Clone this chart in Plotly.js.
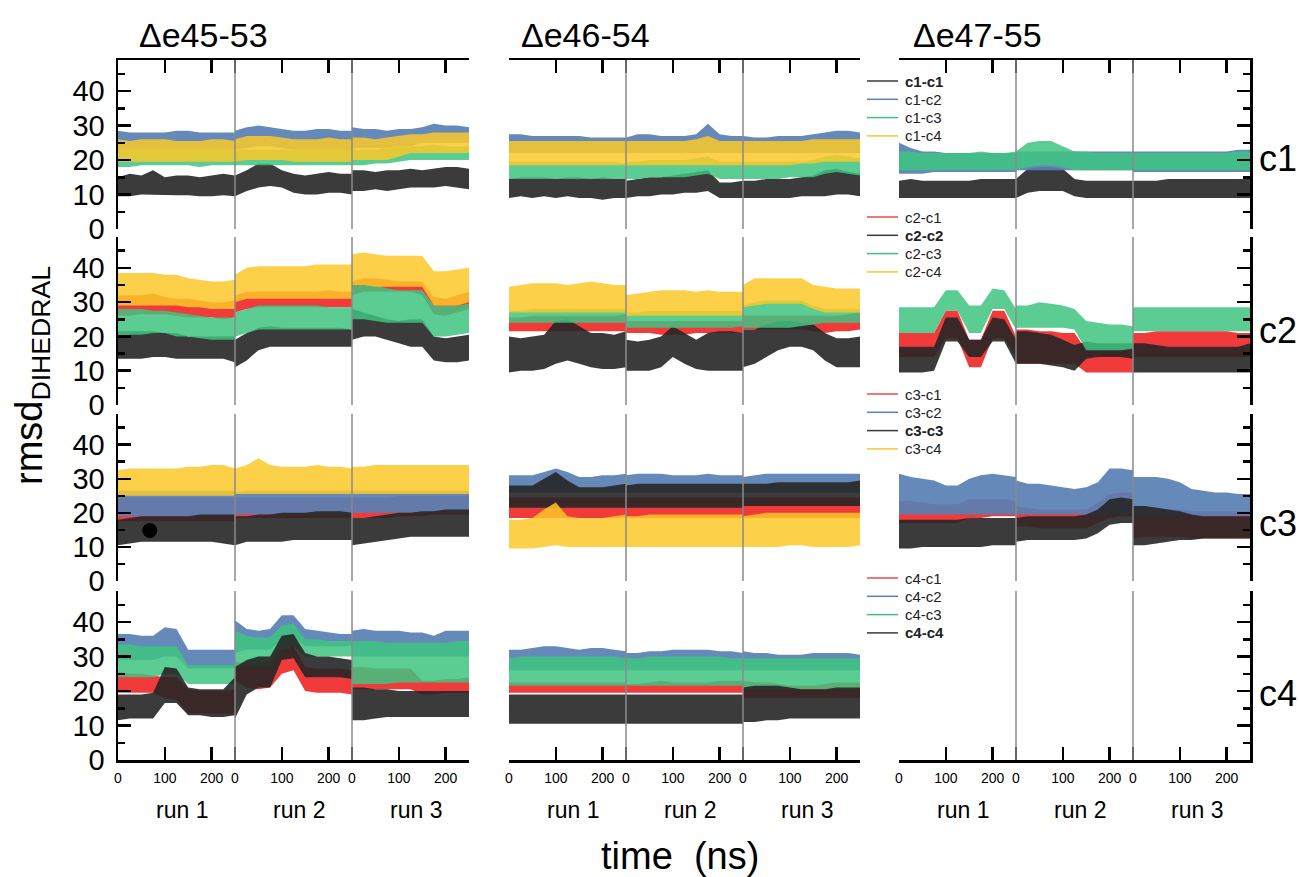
<!DOCTYPE html>
<html><head><meta charset="utf-8">
<script src="https://cdn.plot.ly/plotly-3.0.1.min.js"></script>
<style>html,body{margin:0;padding:0;background:#fff}</style>
</head><body><div id="chart" style="width:1299px;height:877px"></div>
<script>
// ---------- categories / labels ----------
const columnTitles = ['Δe45-53','Δe46-54','Δe47-55'];
const rowLabels = ['c1','c2','c3','c4'];
const runLabels = ['run 1','run 2','run 3'];
const runTimes = [0,25,50,75,100,125,150,175,200,225,250]; // ns within each run
const runLength = 250;
const xTickVals = [0,100,200];
const xTickText = ['0','100','200'];
const pairNames = [
  ['c1-c1','c1-c2','c1-c3','c1-c4'],
  ['c2-c1','c2-c2','c2-c3','c2-c4'],
  ['c3-c1','c3-c2','c3-c3','c3-c4'],
  ['c4-c1','c4-c2','c4-c3','c4-c4']
];
const dotTime = [68];
const dotValue = [14.8];

// ---------- data: lower/upper envelope of each rmsd trace (run1 | run2 | run3) ----------
// Δe45-53
const e45_c1c1_lo=[9.5,9.5,10,10,9.8,9.8,9.8,9.5,9.5,9.8,9.5, 9.5,11,12,12.5,12,10.5,10,10,10.5,10.5,10, 11,11,11.5,11,11.5,12,12,12,12.5,12,11.5];
const e45_c1c1_hi=[15,16,15.5,17,15,15.5,15.5,15,15.5,16,15.5, 15.5,17,19,19,17,16,15.5,16,16.5,16,16, 17,17,16.5,17,17,17.5,17,17.5,18,18,17.5];
const e45_c1c2_lo=[23,23,23,23,23,23,23,23,23,23,23, 23,23.5,24,24,23.5,23,23,23,23,23,23, 23.5,23.5,23.5,23.5,24,24,25,25,25,25,25];
const e45_c1c2_hi=[28.5,28,28,28,28,28.5,28.5,28,28,28,28, 28.5,29.5,30,29.5,29,28.5,28.5,29,29,28.5,28.5, 29.5,29,29,28.5,29,29,29.5,30.5,30,30,29.5];
const e45_c1c3_lo=[18,18,18.5,18.5,18.5,18.5,18.5,18,18.5,18.5,18.5, 18.5,18.5,18.5,18.5,18.5,18.5,18.5,18.5,18.5,18.5,18.5, 18.5,18.5,19,19,19.5,20,20,20,20,20,20];
const e45_c1c3_hi=[23,23,23,23,23,23,23,23,23,23,23, 23,23,23,23,23,23,23,23,23,23,23, 23,23,23,23.5,24,24,24,24.5,24,24,24];
const e45_c1c4_lo=[19.5,19.5,19.5,19.5,19.5,19.5,19.5,19.5,19.5,19.5,19.5, 19.5,20,20,20,20,19.5,19.5,19.5,19.5,19.5,19.5, 20,20,20,20,21,22,22,22,22,22,22];
const e45_c1c4_hi=[26,25.5,26,26,26,25.5,25.5,25.5,26,26,25.5, 26,27,27,27,26.5,26,26,26,26.5,26,26, 26.5,26.5,26,26.5,27,27.5,27.5,28,28,28,28];

const e45_c2c1_lo=[26,26,26.5,26.5,26.5,26,25.5,25.5,25.5,25,25.5, 27,28,28.5,28.5,28.5,28.5,28.5,28.5,28.5,28.5,28.5, 32,33,33,33,33,33,32,26.5,26,27,28];
const e45_c2c1_hi=[32,32,32,32.5,31.5,31,31,30.5,30,30,30.5, 32,33,33,33,33,33,33,33,33.5,33,33, 36,37,37,36.5,36,36,36,31.5,31,32,33];
const e45_c2c2_lo=[13.5,13.5,13.5,14,14,13.5,13.5,13.5,13.5,13.5,12.5, 11,13,16,17,17,17,17,17,17,17,17, 19,20,20,19,18,17,17,13,12.5,12.5,13];
const e45_c2c2_hi=[21.5,21.5,21.5,21.5,21,21,20,20,20,20,20, 19,21,22.5,23,22.5,22.5,22.5,22.5,22.5,22.5,22, 28,27,26,25,24.5,25,25,20,19.5,20,20.5];
const e45_c2c3_lo=[20,20.5,20.5,21,21,20,20,19.5,19,19,19, 20,21,22,22,22,22,22,22,22,22,22, 25,25,24.5,24,24,24,24,20,20,20.5,21];
const e45_c2c3_hi=[28,28,28,27.5,27.5,27,26.5,26,25.5,25.5,25.5, 27,28,29,29,29,29,29,29,28.5,28.5,28.5, 35,35,35,34,33.5,33.5,33.5,29,29,29,29.5];
const e45_c2c4_lo=[29,29,29,29,29,29,28.5,28.5,28,28,28, 30,31,31,31,31,31,31,31,31,31,31, 35,35,34.5,34.5,34.5,34.5,34.5,29,29,29,30];
const e45_c2c4_hi=[38.5,38.5,38.5,38.5,38,38,37,36.5,36,36,36.5, 38,40,40.5,40.5,40.5,40.5,40.5,41,41,41,41, 44,44.5,44,43.5,43.5,43.5,43.5,39,39,39.5,40];

const e45_c3c1_lo=[17.5,17.5,17.5,17.5,17.5,17.5,17.5,17.5,17.5,17.5,17.5, 18.5,18.5,18.5,18.5,18.5,18.5,18.5,18.5,18.5,18.5,18.5, 18.5,18.5,18.5,18.5,19,19,19,19.5,19.5,19.5,19.5];
const e45_c3c1_hi=[24.5,24.5,24.5,24.5,24.5,24.5,24.5,24.5,24.5,24.5,24.5, 24.5,24.5,24.5,24.5,24.5,24.5,24.5,24.5,24.5,24.5,24.5, 24.5,24.5,24.5,24.5,25,25,25,25,25,25,25];
const e45_c3c2_lo=[19,19,19,19,19,19,19,19,19,19,19, 19.5,19.5,19.5,19.5,19.5,19.5,19.5,19.5,19.5,19.5,19.5, 20,20,20,20,20,20,20,20,20,20,20];
const e45_c3c2_hi=[26.5,26.5,26.5,26.5,26.5,26.5,26.5,26.5,26.5,26.5,26.5, 26,26.5,26.5,26.5,26.5,26.5,26.5,26.5,26.5,26.5,26.5, 26.5,26.5,26.5,26.5,26.5,26.5,26.5,26.5,26.5,26.5,26.5];
const e45_c3c3_lo=[10.5,11,11.5,11.5,11.5,11.5,11.5,11.5,11.5,11,10.5, 10.5,11.5,11.5,11.5,11.5,12,12,12,12,12,12, 10.5,11,11.5,12,12.5,13,13,13,13,13,13];
const e45_c3c3_hi=[18,18.5,19,19,19,19,19,19.5,19.5,19.5,19.5, 19,19,19.5,19.5,20,20,20,20.5,20.5,20.5,20, 18.5,18.5,19,19.5,20,20,20.5,20.5,21,21,21];
const e45_c3c4_lo=[25,25,25,25,25,25,25,25,25,25,25, 25.5,25.5,25.5,25.5,25.5,25.5,25.5,25.5,25.5,25.5,25.5, 25.5,25.5,25.5,25.5,25.5,25.5,25.5,25.5,25.5,25.5,25.5];
const e45_c3c4_hi=[32.5,33,33,33,33,33,33.5,33.5,34,34,33, 33,34,36,34,33.5,33.5,33.5,34,33.5,33.5,33, 33.5,33.5,34,34,34,34,34,34,34,34,34];

const e45_c4c1_lo=[19.5,19.5,19.5,19.5,18,17.5,13.5,13.5,13.5,13.5,13.5, 23,21,20.5,21,25,26,20,19.5,19.5,19.5,19, 20.5,20.5,20.5,20.5,20.5,20.5,19,19,19.5,19.5,19.5];
const e45_c4c1_hi=[25.5,25,25,24.5,24,24,20.5,20,20,20,20.5, 28.5,28,28,29,32,33,27,26.5,26.5,26.5,26, 27,27,26.5,26.5,26.5,26.5,23,23,23.5,23.5,24];
const e45_c4c2_lo=[29,29,29,29,30,30,26.5,26.5,26.5,26.5,26.5, 31,32,32,32,35,36,33,33,33,33,33, 30,30,30,30,30,30,30,30,30,30,30];
const e45_c4c2_hi=[36.5,36.5,36,36,38.5,38,32,32,32,32,32, 40.5,38,37.5,38,42,42,38,37.5,37,36.5,36.5, 37.5,38,37.5,37.5,37.5,37,37,36,37.5,37.5,37.5];
const e45_c4c3_lo=[24,24,24,24,25,25,22,22,22,22,22, 27,27,27,27,32,33,30,30,30,30,30, 22,22,22,22,22.5,22.5,22.5,22.5,22.5,22.5,22.5];
const e45_c4c3_hi=[33.5,33.5,33,33,33,33,27.5,27.5,27.5,27.5,27.5, 37.5,36,35.5,35.5,39,39.5,35,35,34.5,34.5,34.5, 34.5,34.5,34.5,34,34,34,34,34,34,34.5,34.5];
const e45_c4c4_lo=[11.5,12,12,12,16.5,16.5,13,13,12.5,12.5,13, 12,19,21,21,29,29.5,24,24,24,24,23.5, 11.5,11.5,12,12.5,12.5,12.5,12.5,12.5,12.5,12.5,12.5];
const e45_c4c4_hi=[19,19,19,19.5,27,26.5,21,20.5,20.5,20.5,24, 27,29,30,30,36,36.5,31,30,30,29.5,29, 21,21,20.5,20.5,20,20,20,20,20,20,20];

// Δe46-54
const e46_c1c1_lo=[9,9.5,9,9.5,9,9.5,9,9,8.5,9,9, 9,9.5,9.5,10,10,10.5,10.5,11,9,9,9, 9,9,9,9,9,9.5,9.5,9.5,10,10,9.5];
const e46_c1c1_hi=[14.5,15,15,15,14.5,15,15,14.5,15,14.5,14.5, 14,14.5,15,15,15.5,16,16.5,17,13.5,13.5,14, 14,14,14.5,14.5,14.5,15,15.5,17,17.5,16.5,16];
const e46_c1c2_lo=[22,22,22,22,22,22,22,22,22,22,22, 22,22,22,22,22,22,22,22,22,22,22, 22,22,22,22,22,22,22,22,22,22,22];
const e46_c1c2_hi=[27.5,27.5,27,27,27,27,27,26.5,26.5,26.5,26.5, 26.5,27.5,27.5,27,27,27,27.5,30.5,27.5,27,27, 27,26.5,26.5,27,27,27,27.5,28,28.5,28.5,28];
const e46_c1c3_lo=[14.5,14.5,14.5,14.5,14.5,14.5,14.5,14.5,14.5,14.5,14.5, 14.5,14.5,15,15,15,15,15.5,16,14.5,14.5,14.5, 14.5,14.5,14.5,14.5,15,15,15,16,16.5,16,15.5];
const e46_c1c3_hi=[19.5,19.5,19.5,19.5,19.5,19.5,19.5,19.5,19.5,19.5,19, 19.5,19.5,20,20,20,20,20.5,21,19.5,19.5,19.5, 19.5,19.5,19.5,19.5,19.5,19.5,20,21,21.5,21,20.5];
const e46_c1c4_lo=[18.5,18.5,18.5,18.5,18.5,18.5,18.5,18.5,18.5,18.5,18.5, 18.5,18.5,18.5,18.5,18.5,18.5,18.5,18.5,18.5,18.5,18.5, 18.5,18.5,18.5,18.5,18.5,19,19,19.5,19.5,19.5,19.5];
const e46_c1c4_hi=[25.5,25.5,25.5,25.5,25.5,25.5,25.5,25.5,25.5,25.5,25.5, 25.5,25.5,25.5,25.5,25.5,25.5,26,27,25.5,25.5,25.5, 25.5,25.5,25.5,25.5,25.5,25.5,26,26,26,26,26];

const e46_c2c1_lo=[21.5,21.5,21.5,21.5,21.5,21.5,21.5,21.5,21.5,21.5,21.5, 21,21,21,20.5,20.5,20.5,21,21,21,21,21, 22,22,22,22,22,22,21.5,21,21.5,21.5,22];
const e46_c2c1_hi=[25.5,25.5,26,26,26,26,26,26,26,26,26.5, 24.5,24.5,24.5,24.5,24.5,24.5,24.5,24.5,24.5,24.5,24.5, 26,26,26,26,26,26,26,26,26,26.5,27];
const e46_c2c2_lo=[9.5,10,10,10.5,12,13,12,11,10.5,10.5,11, 10,10,10,11,14,12,10.5,10,10,10,10, 11,12,14,16,17,17,16,13,11,11,11];
const e46_c2c2_hi=[20,19.5,20,20.5,24.5,25,23,21,21,20.5,21.5, 19,18.5,19,20,23,21,19,21,21.5,21.5,21, 22,22,23.5,24.5,24.5,24,23.5,21,19.5,19.5,20];
const e46_c2c3_lo=[24,24,24,24,24,24,24,24,24,24,24, 22.5,22.5,22.5,22.5,22.5,22.5,22.5,22.5,22.5,22.5,23, 22.5,22.5,22.5,22.5,22.5,23,23.5,24,24,24,24];
const e46_c2c3_hi=[27.5,27.5,28,28,28,28,28,28,28,28,28, 27,27,27.5,27.5,27.5,27.5,27.5,27.5,27.5,27.5,27.5, 29,30,30.5,30.5,30.5,30.5,29,28,28,28,28];
const e46_c2c4_lo=[27,27,27,27,27,27,27,27,27,27,27, 26,26,26,26,26,26,26,26,26,26,26, 28.5,29,29.5,29.5,29.5,29.5,28,27,27,27,27];
const e46_c2c4_hi=[34.5,35,35.5,35.5,35.5,35,35.5,36,35.5,35,35, 32,32.5,33,33.5,33.5,33.5,33,33.5,33,33,33, 35,37,37,37,37,37,35,34.5,34,34,34];

const e46_c3c1_lo=[18.5,18.5,18.5,18.5,18.5,18.5,18.5,18.5,18.5,18.5,18.5, 18.5,18.5,18.5,18.5,18.5,18.5,18.5,18.5,18.5,18.5,18.5, 18.5,18.5,18.5,18.5,18.5,18.5,18.5,18.5,18.5,18.5,18.5];
const e46_c3c1_hi=[24.5,24.5,24.5,24.5,24.5,24.5,24.5,24.5,24.5,24.5,24.5, 24.5,24.5,24.5,24.5,24.5,24.5,24.5,24.5,24.5,24.5,24.5, 24.5,24.5,24.5,24.5,24.5,24.5,24.5,24.5,24.5,24.5,24.5];
const e46_c3c2_lo=[26,26,26,26,26,26,26,26,26,26,26, 26,26,26,26,26,26,26,26,26,26,26, 26,26,26,26,26,26,26,26,26,26,26];
const e46_c3c2_hi=[31,31,31,32,33,32,30.5,30.5,31,31,31.5, 31,31.5,31.5,31.5,31,31,31,31.5,31,31,31, 30.5,31,31.5,31.5,31.5,31.5,31.5,31.5,31.5,31.5,31.5];
const e46_c3c3_lo=[21.5,21.5,21.5,21.5,21.5,21.5,21.5,21.5,21.5,21.5,21.5, 21.5,21.5,21.5,21.5,21.5,21.5,21.5,21.5,21.5,21.5,21.5, 22,22,22,22,22,22,22,22,22,22,22];
const e46_c3c3_hi=[28,28,28,30,32,29.5,27.5,27.5,27.5,28,28.5, 28,28.5,28.5,28.5,28.5,28.5,28.5,28.5,28.5,28.5,28.5, 28.5,28.5,28.5,29,29,29,29,29,29,29,29.5];
const e46_c3c4_lo=[9.5,9.5,9.5,10,10.5,10,10,10,10,10,10, 10,10,10,10,10,10,10,10,10,10,10, 10,10,10,10,10.5,10.5,10,10,10,10,10.5];
const e46_c3c4_hi=[18,18,18.5,21,23,19,18.5,18.5,18.5,19,19.5, 19,19,19.5,19.5,19.5,19.5,19.5,19.5,19.5,19.5,19.5, 19,19.5,20,20,20,20,20,20,20,20,20];

const e46_c4c1_lo=[19.5,19.5,19.5,19.5,19.5,19.5,19.5,19.5,19.5,19.5,19.5, 19.5,19.5,19.5,19.5,19.5,19.5,19.5,19.5,19.5,19.5,19.5, 18,18,18,18,18,18,18,18,18,18,18];
const e46_c4c1_hi=[22.5,22.5,22.5,22.5,22.5,22.5,22.5,22.5,22.5,22.5,22.5, 22,22,22.5,23,22.5,22.5,22.5,22.5,23,23,23, 23,22.5,22.5,22,21.5,21.5,21.5,22,22.5,22.5,22.5];
const e46_c4c2_lo=[26,26,26,26,26,26,26,26,26,26,26, 26,26,26,26,26,26,26,26,26,26,26, 26,26,26,26,26,26,26,26,26,26,26];
const e46_c4c2_hi=[32,32,32.5,33,33,32.5,32,32.5,32.5,32,31.5, 31,31,31.5,31.5,32,32,32,32,31.5,31.5,31, 31.5,31,31,30.5,30.5,30.5,31,31,31,31,30.5];
const e46_c4c3_lo=[21.5,21.5,21.5,21.5,21.5,21.5,21.5,21.5,21.5,21.5,21.5, 21.5,21.5,21.5,21.5,21.5,21.5,21.5,21.5,21.5,21.5,21.5, 20.5,20.5,20.5,20.5,20.5,20.5,20.5,20.5,20.5,20.5,20.5];
const e46_c4c3_hi=[29.5,30,30,30,30,30,30,30,30,30,29.5, 29.5,29.5,30,30,30,30,30,30,30,29.5,29.5, 29.5,29.5,29.5,29.5,29.5,29.5,29.5,29.5,29.5,29.5,29.5];
const e46_c4c4_lo=[10.5,10.5,10.5,10.5,10.5,10.5,10.5,10.5,10.5,10.5,10.5, 10.5,10.5,10.5,10.5,10.5,10.5,10.5,10.5,10.5,10.5,10.5, 11,11,11.5,11.5,12,12,12,12,12,12,12];
const e46_c4c4_hi=[19,19,19,19,19,19,19,19,19,19,19, 19,19,19,19,19,19,19,19,19,19,19, 21,21.5,21.5,21.5,21,20.5,20.5,20.5,21,21,21];

// Δe47-55
const e47_c1c1_lo=[9,9,9,9,9,9,9,9,9,9,9, 9,10.5,11,11,11,9.5,9,9,9,9,9, 9,9,9,9,9,9,9,9,9,9,9];
const e47_c1c1_hi=[14,14.5,14,14,14,14,14,14.5,14.5,14.5,14.5, 14.5,17.5,18,18,17.5,14.5,14,14,14,14,14, 14,14,14,14.5,14.5,14.5,14.5,14.5,14.5,14.5,14.5];
const e47_c1c2_lo=[16,16,16,16.5,16.5,16.5,16.5,16.5,16.5,16.5,16.5, 17,17,17,17,17,17,17,17,17,17,17, 16.5,16.5,16.5,16.5,16.5,16.5,16.5,16.5,16.5,16.5,16.5];
const e47_c1c2_hi=[25,23.5,22.5,22.5,22,22,22,22,22,22,22, 22.5,22.5,22.5,22.5,22.5,22.5,22.5,22.5,22.5,22.5,22.5, 22.5,22.5,22.5,22.5,22.5,22.5,22.5,22.5,22.5,23,23];
const e47_c1c3_lo=[17,17,17,17,17,17,17,17,17,17,17, 17,18,18.5,18.5,18,17,17,17,17,17,17, 17,17,17,17,17,17,17,17,17,17,17];
const e47_c1c3_hi=[22.5,22.5,22,22,22,22,22,22.5,22,22,22.5, 22.5,25,25.5,25.5,24,22.5,22.5,22,22,22,22, 22,22,22,22,22,22,22,22,22,22.5,22.5];

const e47_c2c1_lo=[14,14,14,14,19.5,19.5,11,11,19.5,19.5,14, 12,12,12,12,12,12,9.5,9.5,9.5,9.5,9.5, 14,14,14,14,14,14,14,14,14,14,14];
const e47_c2c1_hi=[21,21,21,21,27.5,27.5,19,19,27.5,27.5,20, 22,22,21.5,21.5,21,21,16,16,16,16,16, 21,21,21.5,21.5,21.5,21.5,21.5,21.5,21.5,21,21];
const e47_c2c2_lo=[9.5,9.5,9.5,10,18.5,18.5,14,14,18.5,18.5,12, 12,12,12,11.5,11,10,13.5,14,14,14,13.5, 9.5,9.5,9.5,9.5,9.5,9.5,9.5,9.5,9.5,9.5,9.5];
const e47_c2c2_hi=[17,17,17,17,25.5,25.5,19,19,25.5,25,19, 21.5,21.5,21,20.5,19,17.5,18.5,18,18,18,18, 18,18,17.5,17,17,17,17,17,17,17,18];
const e47_c2c3_lo=[21,21,21,21,27.5,27.5,21,21,28,28,22, 22.5,22.5,22.5,22.5,22.5,22,16,16,16,16,16.5, 21.5,21.5,21.5,21.5,21.5,21.5,21.5,21.5,21.5,21.5,21.5];
const e47_c2c3_hi=[28.5,28.5,28.5,28.5,33.5,33.5,29,29,34,33.5,28, 29,29,30,29.5,29,28,24.5,24,23.5,23.5,23, 28.5,28.5,28.5,28.5,28.5,28.5,28.5,28.5,28.5,28.5,28.5];

const e47_c3c1_lo=[17,17,17,17,17,17,18.5,18.5,19,19,19, 16,16,15.5,15.5,15.5,15.5,15.5,17,18.5,19,19, 12.5,13,13,13,13,12.5,12.5,12.5,12.5,12.5,12.5];
const e47_c3c1_hi=[23.5,23.5,23,22.5,22.5,22.5,24,24,24,24,23.5, 22,21.5,21,21,21,21,21,23,25.5,26,26, 22,22,21.5,21,21,20.5,20.5,20.5,20.5,20.5,20.5];
const e47_c3c2_lo=[19.5,19.5,19.5,19.5,19.5,19.5,19.5,19.5,19.5,19.5,19.5, 19.5,19.5,19.5,19.5,19.5,19.5,19.5,19.5,19.5,19.5,19.5, 19,19,19,19,19,19,19,19,19,19,19];
const e47_c3c2_hi=[31.5,30.5,30,29.5,28,28,30,31,31.5,31,30.5, 29.5,28.5,28.5,28,27.5,27,27.5,29,33,33,32.5, 30.5,30.5,30.5,30,29,27,26.5,26,26,25.5,25.5];
const e47_c3c3_lo=[9.5,9.5,10,10,10,10,10,10,10.5,10.5,10.5, 11.5,12,12,12,12,12,12.5,14,16.5,17,17, 10.5,10.5,11,11.5,12,12,12.5,12.5,12.5,12.5,12.5];
const e47_c3c3_hi=[18,18,18,18,18,18,18.5,18.5,18.5,18.5,18.5, 18.5,19,19,19,19,19,19.5,21,24,24.5,24, 22,22,21.5,21,20.5,19.5,19,19,19,19,19];

// ---------- table of panels built from the arrays above ----------
// [column, row, pair, lower, upper]  (drawing order = legend order)
const panelSeries = [
  [0,0,'c1-c1',e45_c1c1_lo,e45_c1c1_hi],[0,0,'c1-c2',e45_c1c2_lo,e45_c1c2_hi],[0,0,'c1-c3',e45_c1c3_lo,e45_c1c3_hi],[0,0,'c1-c4',e45_c1c4_lo,e45_c1c4_hi],
  [0,1,'c2-c1',e45_c2c1_lo,e45_c2c1_hi],[0,1,'c2-c2',e45_c2c2_lo,e45_c2c2_hi],[0,1,'c2-c3',e45_c2c3_lo,e45_c2c3_hi],[0,1,'c2-c4',e45_c2c4_lo,e45_c2c4_hi],
  [0,2,'c3-c1',e45_c3c1_lo,e45_c3c1_hi],[0,2,'c3-c2',e45_c3c2_lo,e45_c3c2_hi],[0,2,'c3-c3',e45_c3c3_lo,e45_c3c3_hi],[0,2,'c3-c4',e45_c3c4_lo,e45_c3c4_hi],
  [0,3,'c4-c1',e45_c4c1_lo,e45_c4c1_hi],[0,3,'c4-c2',e45_c4c2_lo,e45_c4c2_hi],[0,3,'c4-c3',e45_c4c3_lo,e45_c4c3_hi],[0,3,'c4-c4',e45_c4c4_lo,e45_c4c4_hi],
  [1,0,'c1-c1',e46_c1c1_lo,e46_c1c1_hi],[1,0,'c1-c2',e46_c1c2_lo,e46_c1c2_hi],[1,0,'c1-c3',e46_c1c3_lo,e46_c1c3_hi],[1,0,'c1-c4',e46_c1c4_lo,e46_c1c4_hi],
  [1,1,'c2-c1',e46_c2c1_lo,e46_c2c1_hi],[1,1,'c2-c2',e46_c2c2_lo,e46_c2c2_hi],[1,1,'c2-c3',e46_c2c3_lo,e46_c2c3_hi],[1,1,'c2-c4',e46_c2c4_lo,e46_c2c4_hi],
  [1,2,'c3-c1',e46_c3c1_lo,e46_c3c1_hi],[1,2,'c3-c2',e46_c3c2_lo,e46_c3c2_hi],[1,2,'c3-c3',e46_c3c3_lo,e46_c3c3_hi],[1,2,'c3-c4',e46_c3c4_lo,e46_c3c4_hi],
  [1,3,'c4-c1',e46_c4c1_lo,e46_c4c1_hi],[1,3,'c4-c2',e46_c4c2_lo,e46_c4c2_hi],[1,3,'c4-c3',e46_c4c3_lo,e46_c4c3_hi],[1,3,'c4-c4',e46_c4c4_lo,e46_c4c4_hi],
  [2,0,'c1-c1',e47_c1c1_lo,e47_c1c1_hi],[2,0,'c1-c2',e47_c1c2_lo,e47_c1c2_hi],[2,0,'c1-c3',e47_c1c3_lo,e47_c1c3_hi],
  [2,1,'c2-c1',e47_c2c1_lo,e47_c2c1_hi],[2,1,'c2-c2',e47_c2c2_lo,e47_c2c2_hi],[2,1,'c2-c3',e47_c2c3_lo,e47_c2c3_hi],
  [2,2,'c3-c1',e47_c3c1_lo,e47_c3c1_hi],[2,2,'c3-c2',e47_c3c2_lo,e47_c3c2_hi],[2,2,'c3-c3',e47_c3c3_lo,e47_c3c3_hi]
];

// ---------- styling ----------
const W = 1299, H = 877;
const FONT = 'Liberation Sans, Arial, sans-serif';
const fillColors = {self:'rgba(38,38,38,0.9)', 1:'rgba(240,38,38,0.9)', 2:'rgba(88,128,180,0.92)', 3:'rgba(62,196,128,0.85)', 4:'rgba(252,200,40,0.85)'};
const legendLineColors = {self:'#3a3a3a', 1:'#f04848', 2:'#5a80b4', 3:'#40c080', 4:'#f8c830'};
function pairKey(p){ const a=p.split('-'); return a[0]===a[1] ? 'self' : a[1].slice(1); }
const colPx = [[118,469],[509,860],[899,1250]];
const rowPx = [[60,229],[237,405],[414,581],[591,760]];
const px = x => x / W;
const py = y => 1 - y / H;
const sfx = i => (i === 1 ? '' : String(i));

const globalTimes = runLabels.flatMap((r, i) => runTimes.map(t => i * runLength + t));
const allTickVals = runLabels.flatMap((r, i) => xTickVals.map(v => i * runLength + v));
const allTickText = runLabels.flatMap(() => xTickText);

const traces = [];
panelSeries.forEach(([c, r, pair, lo, hi]) => {
  const idx = r * 3 + c + 1;
  const col = fillColors[pairKey(pair)];
  traces.push({
    type:'scatter', mode:'lines', name:pair,
    x: globalTimes.concat(globalTimes.slice().reverse()),
    y: hi.concat(lo.slice().reverse()),
    fill:'toself', fillcolor:col, line:{width:0, color:col},
    xaxis:'x'+sfx(idx), yaxis:'y'+sfx(idx), hoverinfo:'skip', showlegend:false
  });
});
traces.push({type:'scatter', mode:'markers', x:dotTime, y:dotValue, xaxis:'x7', yaxis:'y7',
  marker:{color:'#000', size:15}, hoverinfo:'skip', showlegend:false});

const layout = {
  width:W, height:H, autosize:false, margin:{l:0,r:0,t:0,b:0},
  paper_bgcolor:'#fff', plot_bgcolor:'rgba(0,0,0,0)', showlegend:false,
  font:{family:FONT, color:'#000'},
  shapes:[], annotations:[]
};

for (let r = 0; r < 4; r++) {
  for (let c = 0; c < 3; c++) {
    const idx = r * 3 + c + 1, s = sfx(idx);
    const xEdge = (r === 0 || r === 3);
    layout['xaxis' + s] = {
      domain:[px(colPx[c][0]), px(colPx[c][1])], range:[0, 3 * runLength], anchor:'y' + s,
      showgrid:false, zeroline:false, fixedrange:true,
      showline:xEdge, side: r === 0 ? 'top' : 'bottom', linecolor:'#000', linewidth:2.5,
      ticks: xEdge ? 'inside' : '', ticklen:13, tickwidth:2.5, tickcolor:'#000',
      tickmode:'array', tickvals:allTickVals, ticktext:allTickText,
      showticklabels: r === 3, tickfont:{size:14, family:FONT, color:'#000'}, ticklabelstandoff:4
    };
    const yEdge = (c !== 1);
    const ya = {
      domain:[py(rowPx[r][1]), py(rowPx[r][0])], range:[0, 49], anchor:'x' + s,
      showgrid:false, zeroline:false, fixedrange:true,
      showline:yEdge, side: c === 2 ? 'right' : 'left', linecolor:'#000', linewidth:2.5,
      ticks: yEdge ? 'inside' : '', ticklen:13, tickwidth:2.5, tickcolor:'#000',
      tick0:0, dtick:10, showticklabels: c === 0,
      tickfont:{size:29, family:FONT, color:'#000'}, ticklabelstandoff:5
    };
    if (yEdge) ya.minor = {dtick:5, tick0:0, ticks:'inside', ticklen:7, tickwidth:2.5, tickcolor:'#000', showgrid:false};
    layout['yaxis' + s] = ya;
    // run separators
    [1, 2].forEach(k => layout.shapes.push({
      type:'line', xref:'x' + s, yref:'y' + s + ' domain', x0:k * runLength, x1:k * runLength, y0:0, y1:1,
      line:{color:'#8a8a8a', width:1.5}
    }));
  }
}

// column titles
const titleLeft = [137, 519, 911];
columnTitles.forEach((t, c) => layout.annotations.push({
  text:t, xref:'paper', yref:'paper', x:px(titleLeft[c]), y:py(35), xanchor:'left', yanchor:'middle',
  showarrow:false, font:{size:34, family:FONT, color:'#000'}
}));
// row labels on right
const rowLabelY = [158, 330, 523, 693];
rowLabels.forEach((t, r) => layout.annotations.push({
  text:t, xref:'paper', yref:'paper', x:px(1257), y:py(rowLabelY[r]), xanchor:'left', yanchor:'middle',
  showarrow:false, font:{size:36, family:FONT, color:'#000'}
}));
// run labels under bottom axes
for (let c = 0; c < 3; c++) {
  runLabels.forEach((t, i) => layout.annotations.push({
    text:t, xref:'x' + sfx(9 + c + 1), yref:'paper', x:i * runLength + 136, y:py(810),
    xanchor:'center', yanchor:'middle', showarrow:false, font:{size:23, family:FONT, color:'#000'}
  }));
}
// axis titles
layout.annotations.push({text:'time  (ns)', xref:'paper', yref:'paper', x:px(680), y:py(856),
  xanchor:'center', yanchor:'middle', showarrow:false, font:{size:38, family:FONT, color:'#000'}});
layout.annotations.push({text:'rmsd<sub>DIHEDRAL</sub>', xref:'paper', yref:'paper', x:px(32), y:py(376),
  xanchor:'center', yanchor:'middle', textangle:-90, showarrow:false, font:{size:38, family:FONT, color:'#000'}});

// legend (line samples + labels)
const legendStartY = [81, 217, 394, 578];
const legendStep = 18.3;
pairNames.forEach((row, r) => row.forEach((p, i) => {
  const y = legendStartY[r] + i * legendStep;
  const key = pairKey(p);
  layout.shapes.push({type:'line', xref:'paper', yref:'paper', x0:px(867), x1:px(898), y0:py(y), y1:py(y),
    line:{color:legendLineColors[key], width:1.5}});
  layout.annotations.push({text: key === 'self' ? '<b>' + p + '</b>' : p, xref:'paper', yref:'paper',
    x:px(903), y:py(y), xanchor:'left', yanchor:'middle', showarrow:false,
    font:{size:15, family:FONT, color:'#222'}});
}));

Plotly.newPlot('chart', traces, layout, {displayModeBar:false, staticPlot:true});
</script>
</body></html>
